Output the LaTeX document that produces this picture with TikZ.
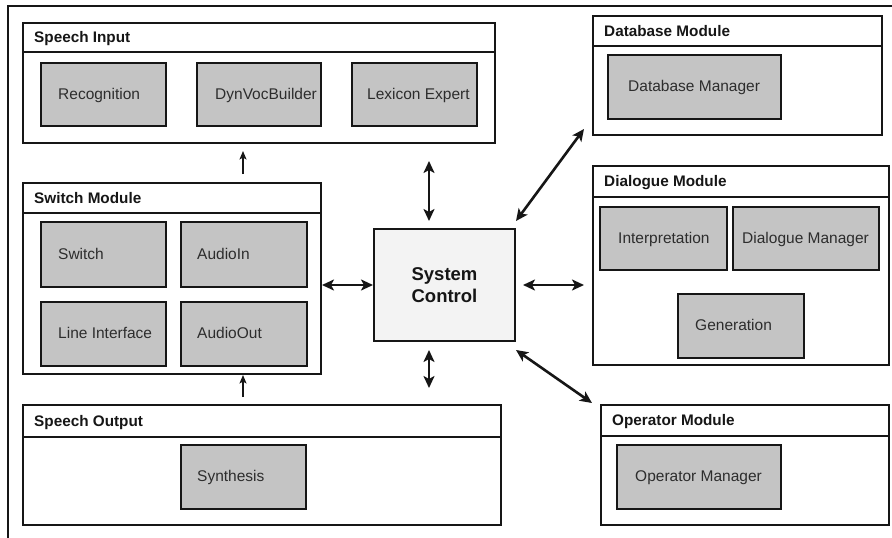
\documentclass[tikz,border=0pt]{standalone}
\usepackage{fontspec}
\setmainfont{Liberation Sans}
\usetikzlibrary{arrows.meta}
\definecolor{boxgray}{RGB}{196,196,196}
\definecolor{ctrlgray}{RGB}{243,243,243}
\definecolor{ink}{RGB}{22,22,22}
\definecolor{txt}{RGB}{45,45,45}
\newcommand\innerbox[7]{%
  \node[inbox, minimum width=#4pt, minimum height=#5pt] (#1) at (#2,#3) {};
  \node[lbl] (#1-text) at (#6,#3+#5/2+5.5) {#7};}
\newcommand\modbox[7]{% name, x, y, w, h, header line y, header text
  \node[module, minimum width=#4pt, minimum height=#5pt] (#1) at (#2,#3) {};
  \draw[modline] (#1.west |- 0,#6) -- (#1.east |- 0,#6);
  \node[hdr] (#1-head) at (#2+12,#3/2+#6/2+5.5) {#7};}
\begin{document}
\begin{tikzpicture}[x=1pt,y=-1pt,
  module/.style={draw=ink, line width=2pt, fill=white, anchor=north west, inner sep=0pt},
  modline/.style={draw=ink, line width=2pt},
  inbox/.style={draw=ink, line width=1.5pt, fill=boxgray, anchor=north west, inner sep=0pt},
  hdr/.style={anchor=base west, inner sep=0pt, text=ink, font=\fontsize{15.3}{18}\selectfont\bfseries},
  lbl/.style={anchor=base west, inner sep=0pt, text=txt, font=\fontsize{15.5}{18}\selectfont},
  ctrl/.style={draw=ink, line width=2pt, fill=ctrlgray, inner sep=0pt, align=center, text=ink,
    font=\fontsize{18.5}{22}\selectfont\bfseries},
  frame/.style={draw=ink, line width=1.4pt},
  sarr/.style={draw=ink, line width=1.5pt, -{Stealth[length=8.5pt,width=7pt,inset=2pt]}},
  dbl/.style={draw=ink, line width=2.6pt, {Stealth[length=12pt,width=11pt,inset=3pt]}-{Stealth[length=12pt,width=11pt,inset=3pt]}}]
\useasboundingbox (0,0) rectangle (892,538);
\fill[white] (0,0) rectangle (892,538);
% outer frame (only top and left visible)
\draw[frame] (8,538) -- (8,6) -- (892,6);

% modules
\modbox{si}{22}{22}{472}{120}{52}{Speech Input}
\modbox{sw}{22}{182}{298}{191}{213}{Switch Module}
\modbox{so}{22}{404}{478}{120}{437}{Speech Output}
\modbox{db}{592}{15}{289}{119}{46}{Database Module}
\modbox{dlg}{592}{165}{296}{199}{197}{Dialogue Module}
\modbox{op}{600}{404}{288}{120}{436}{Operator Module}

% inner boxes
\innerbox{rec}{40}{62}{125}{63}{58}{Recognition}
\innerbox{dyn}{196}{62}{124}{63}{215}{DynVocBuilder}
\innerbox{lex}{351}{62}{125}{63}{367}{Lexicon Expert}
\innerbox{swi}{40}{221}{125}{65}{58}{Switch}
\innerbox{ain}{180}{221}{126}{65}{197}{AudioIn}
\innerbox{lin}{40}{301}{125}{64}{58}{Line Interface}
\innerbox{aout}{180}{301}{126}{64}{197}{AudioOut}
\innerbox{syn}{180}{444}{125}{64}{197}{Synthesis}
\innerbox{dbm}{607}{54}{173}{64}{628}{Database Manager}
\innerbox{intp}{599}{206}{127}{63}{618}{Interpretation}
\innerbox{dm}{732}{206}{146}{63}{742}{Dialogue Manager}
\innerbox{gen}{677}{293}{126}{64}{695}{Generation}
\innerbox{opm}{616}{444}{164}{64}{635}{Operator Manager}

% system control
\node[ctrl, minimum width=141pt, minimum height=112pt] (sc) at (444.5,285) {System\\Control};

% connectors
\draw[sarr, shorten <=8pt, shorten >=7pt] (sw.north -| 243,0) -- (si.south -| 243,0);
\draw[sarr, shorten <=7pt] (so.north -| 243,0) -- (sw.south -| 243,0);
\draw[dbl] (sw.east |- sc.west) -- (sc.west);
\draw[dbl, shorten <=7pt, shorten >=8pt] (sc.east) -- (dlg.west |- sc.east);
\draw[dbl, shorten <=7pt, shorten >=17pt] (sc.north -| 429,0) -- (si.south -| 429,0);
\draw[dbl, shorten <=8pt, shorten >=16pt] (sc.south -| 429,0) -- (so.north -| 429,0);
\draw[dbl] ([shift={(0,-7)}]sc.north east) -- ([shift={(-8,-7)}]db.south west);
\draw[dbl] ([shift={(0,8)}]sc.south east) -- ([shift={(-8,-1)}]op.north west);
\end{tikzpicture}
\end{document}
